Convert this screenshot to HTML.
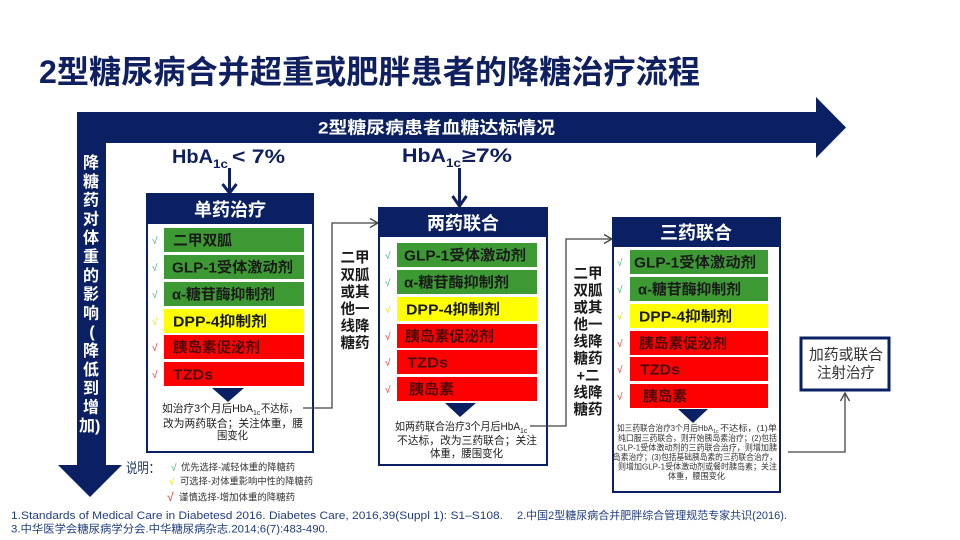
<!DOCTYPE html>
<html>
<head>
<meta charset="utf-8">
<style>
html,body{margin:0;padding:0;background:#fff;}
svg{display:block;}
text{font-family:"Liberation Sans","Noto Sans CJK SC",sans-serif;}
.v{font-family:"DejaVu Sans","Noto Sans CJK SC",sans-serif;}
.cj{font-family:"Liberation Sans","Noto Sans CJK SC",sans-serif;}
</style>
</head>
<body>
<svg width="960" height="540" viewBox="0 0 960 540" xmlns="http://www.w3.org/2000/svg">
<rect width="960" height="540" fill="#fff"/>

<!-- Title -->
<text x="39" y="83" font-size="32" font-weight="bold" fill="#0f1f5f" textLength="661" lengthAdjust="spacingAndGlyphs">2型糖尿病合并超重或肥胖患者的降糖治疗流程</text>

<!-- Big L arrow -->
<path d="M77,112 L816,112 L816,97 L846,127.5 L816,158 L816,143 L106,143 L106,465 L122,465 L90,497 L58,465 L77,465 Z" fill="#0a2062"/>
<text x="318" y="133.5" font-size="17" font-weight="bold" fill="#fff" textLength="237" lengthAdjust="spacingAndGlyphs">2型糖尿病患者血糖达标情况</text>

<!-- Vertical text -->
<g font-size="16" font-weight="bold" fill="#fff" text-anchor="middle">
<text x="91" y="168">降</text>
<text x="91" y="186.8">糖</text>
<text x="91" y="205.6">药</text>
<text x="91" y="224.4">对</text>
<text x="91" y="243.2">体</text>
<text x="91" y="262">重</text>
<text x="91" y="280.8">的</text>
<text x="91" y="299.6">影</text>
<text x="91" y="318.4">响</text>
<text x="92" y="337.2">(</text>
<text x="91" y="356">降</text>
<text x="91" y="374.8">低</text>
<text x="91" y="393.6">到</text>
<text x="91" y="412.4">增</text>
</g>
<text x="79" y="431" font-size="16" font-weight="bold" fill="#fff">加)</text>

<!-- HbA1c < 7% -->
<g class="v" font-weight="bold" fill="#0f1f5f">
<text x="172" y="163" font-size="19" textLength="41" lengthAdjust="spacingAndGlyphs">HbA</text>
<text x="213" y="168" font-size="12" textLength="15" lengthAdjust="spacingAndGlyphs">1c</text>
<text x="232" y="163" font-size="19" textLength="53" lengthAdjust="spacingAndGlyphs">&lt; 7%</text>
<text x="402" y="162" font-size="19" textLength="44" lengthAdjust="spacingAndGlyphs">HbA</text>
<text x="446" y="167" font-size="12" textLength="15" lengthAdjust="spacingAndGlyphs">1c</text>
<text x="462" y="162" font-size="19" textLength="50" lengthAdjust="spacingAndGlyphs">≥7%</text>
</g>

<!-- down arrows -->
<g stroke="#0f1f5f" stroke-width="3" fill="none">
<line x1="229.5" y1="168" x2="229.5" y2="193"/>
<polyline points="222.5,184 229.5,193 236.5,184"/>
<line x1="459.5" y1="168" x2="459.5" y2="206"/>
<polyline points="452.5,196 459.5,206 466.5,196"/>
</g>

<!-- Box 1 -->
<rect x="147" y="194" width="166" height="258" fill="#fff" stroke="#0a2062" stroke-width="2"/>
<rect x="147" y="194" width="166" height="30" fill="#0a2062"/>
<text x="230" y="216" font-size="18" font-weight="bold" fill="#fff" text-anchor="middle">单药治疗</text>

<rect x="164" y="228" width="140" height="24" fill="#3d9934"/>
<rect x="164" y="255" width="140" height="24" fill="#3d9934"/>
<rect x="164" y="282" width="140" height="24" fill="#3d9934"/>
<rect x="164" y="309" width="140" height="24" fill="#ffff00"/>
<rect x="164" y="335" width="140" height="24" fill="#ff0000"/>
<rect x="164" y="362" width="140" height="24" fill="#ff0000"/>
<g class="v" font-size="14.5" font-weight="bold">
<text x="173" y="245.5" fill="#1a1a1a" textLength="59" lengthAdjust="spacingAndGlyphs">二甲双胍</text>
<text x="172" y="272.5" fill="#1a1a1a" textLength="121" lengthAdjust="spacingAndGlyphs">GLP-1受体激动剂</text>
<text x="172" y="299.5" fill="#1a1a1a" textLength="103" lengthAdjust="spacingAndGlyphs">α-糖苷酶抑制剂</text>
<text x="173" y="326.5" fill="#1a1a1a" textLength="94" lengthAdjust="spacingAndGlyphs">DPP-4抑制剂</text>
<text x="173" y="352.5" fill="#4a0a0a" textLength="87" lengthAdjust="spacingAndGlyphs">胰岛素促泌剂</text>
<text x="173" y="379.5" fill="#4a0a0a" textLength="40" lengthAdjust="spacingAndGlyphs">TZDs</text>
</g>
<g font-size="10">
<text x="152" y="244" fill="#3cb371">√</text>
<text x="152" y="271" fill="#3cb371">√</text>
<text x="152" y="298" fill="#3cb371">√</text>
<text x="152" y="325" fill="#e6e600">√</text>
<text x="152" y="351" fill="#ff2a2a">√</text>
<text x="152" y="378" fill="#ff2a2a">√</text>
</g>
<polygon points="212,388 244,388 228,402" fill="#0a2062"/>
<g font-size="11" fill="#222">
<text x="162" y="412" textLength="91" lengthAdjust="spacingAndGlyphs">如治疗3个月后HbA</text>
<text x="253" y="415" font-size="7">1c</text>
<text x="261" y="412" textLength="37" lengthAdjust="spacingAndGlyphs">不达标，</text>
<text x="163" y="427" textLength="140" lengthAdjust="spacingAndGlyphs">改为两药联合；关注体重，腰</text>
<text x="217" y="439" textLength="31" lengthAdjust="spacingAndGlyphs">围变化</text>
</g>

<!-- Connector 1 -->
<g stroke="#444" stroke-width="1.3" fill="none">
<polyline points="303,408 332,408 332,223 377,223"/>
<polyline points="370,218.5 378,223 370,227.5"/>
</g>
<g font-size="14.5" font-weight="bold" fill="#1a1a1a" text-anchor="middle">
<text x="355" y="262.5">二甲</text>
<text x="355" y="280">双胍</text>
<text x="355" y="297">或其</text>
<text x="355" y="314">他一</text>
<text x="355" y="331">线降</text>
<text x="355" y="348">糖药</text>
</g>

<!-- Box 2 -->
<rect x="379" y="208" width="168" height="257" fill="#fff" stroke="#0a2062" stroke-width="2"/>
<rect x="379" y="208" width="168" height="29" fill="#0a2062"/>
<text x="463" y="229.5" font-size="18" font-weight="bold" fill="#fff" text-anchor="middle">两药联合</text>

<rect x="397" y="243" width="140" height="24" fill="#3d9934"/>
<rect x="397" y="270" width="140" height="24" fill="#3d9934"/>
<rect x="397" y="297" width="140" height="24" fill="#ffff00"/>
<rect x="397" y="324" width="140" height="24" fill="#ff0000"/>
<rect x="397" y="350" width="140" height="24" fill="#ff0000"/>
<rect x="397" y="377" width="140" height="24" fill="#ff0000"/>
<g class="v" font-size="14.5" font-weight="bold">
<text x="404" y="260.5" fill="#1a1a1a" textLength="122" lengthAdjust="spacingAndGlyphs">GLP-1受体激动剂</text>
<text x="404" y="287.5" fill="#1a1a1a" textLength="105" lengthAdjust="spacingAndGlyphs">α-糖苷酶抑制剂</text>
<text x="406" y="314.5" fill="#1a1a1a" textLength="94" lengthAdjust="spacingAndGlyphs">DPP-4抑制剂</text>
<text x="405" y="341.5" fill="#4a0a0a" textLength="89" lengthAdjust="spacingAndGlyphs">胰岛素促泌剂</text>
<text x="407" y="367.5" fill="#4a0a0a" textLength="41" lengthAdjust="spacingAndGlyphs">TZDs</text>
<text x="409" y="394.5" fill="#4a0a0a" textLength="45" lengthAdjust="spacingAndGlyphs">胰岛素</text>
</g>
<g font-size="10">
<text x="385" y="259" fill="#3cb371">√</text>
<text x="385" y="286" fill="#3cb371">√</text>
<text x="385" y="313" fill="#e6e600">√</text>
<text x="385" y="340" fill="#ff2a2a">√</text>
<text x="385" y="366" fill="#ff2a2a">√</text>
<text x="385" y="393" fill="#ff2a2a">√</text>
</g>
<polygon points="445,403 476,403 460,417" fill="#0a2062"/>
<g font-size="11" fill="#222">
<text x="395" y="430" textLength="125" lengthAdjust="spacingAndGlyphs">如两药联合治疗3个月后HbA</text>
<text x="520" y="433" font-size="7">1c</text>
<text x="397" y="444" textLength="140" lengthAdjust="spacingAndGlyphs">不达标，改为三药联合；关注</text>
<text x="430" y="457" textLength="73" lengthAdjust="spacingAndGlyphs">体重，腰围变化</text>
</g>

<!-- Connector 2 -->
<g stroke="#444" stroke-width="1.3" fill="none">
<polyline points="530,426 566,426 566,239 611,239"/>
<polyline points="604,234.5 612,239 604,243.5"/>
</g>
<g font-size="14.5" font-weight="bold" fill="#1a1a1a" text-anchor="middle">
<text x="588" y="278.5">二甲</text>
<text x="588" y="295.5">双胍</text>
<text x="588" y="312.5">或其</text>
<text x="588" y="329.5">他一</text>
<text x="588" y="346.5">线降</text>
<text x="588" y="363.5">糖药</text>
<text x="588" y="380.5">+二</text>
<text x="588" y="397.5">线降</text>
<text x="588" y="414.5">糖药</text>
</g>

<!-- Box 3 -->
<rect x="613" y="218" width="167" height="274" fill="#fff" stroke="#0a2062" stroke-width="2"/>
<rect x="613" y="218" width="167" height="29" fill="#0a2062"/>
<text x="696" y="239" font-size="18" font-weight="bold" fill="#fff" text-anchor="middle">三药联合</text>

<rect x="630" y="250" width="138" height="24" fill="#3d9934"/>
<rect x="630" y="277" width="138" height="24" fill="#3d9934"/>
<rect x="630" y="304" width="138" height="24" fill="#ffff00"/>
<rect x="630" y="331" width="138" height="24" fill="#ff0000"/>
<rect x="630" y="357" width="138" height="24" fill="#ff0000"/>
<rect x="630" y="384" width="138" height="24" fill="#ff0000"/>
<g class="v" font-size="14.5" font-weight="bold">
<text x="634" y="267.5" fill="#1a1a1a" textLength="122" lengthAdjust="spacingAndGlyphs">GLP-1受体激动剂</text>
<text x="638" y="294.5" fill="#1a1a1a" textLength="103" lengthAdjust="spacingAndGlyphs">α-糖苷酶抑制剂</text>
<text x="639" y="321.5" fill="#1a1a1a" textLength="93" lengthAdjust="spacingAndGlyphs">DPP-4抑制剂</text>
<text x="639" y="348.5" fill="#4a0a0a" textLength="88" lengthAdjust="spacingAndGlyphs">胰岛素促泌剂</text>
<text x="640" y="374.5" fill="#4a0a0a" textLength="40" lengthAdjust="spacingAndGlyphs">TZDs</text>
<text x="643" y="401.5" fill="#4a0a0a" textLength="44" lengthAdjust="spacingAndGlyphs">胰岛素</text>
</g>
<g font-size="10">
<text x="617" y="266" fill="#3cb371">√</text>
<text x="617" y="293" fill="#3cb371">√</text>
<text x="617" y="320" fill="#e6e600">√</text>
<text x="617" y="347" fill="#ff2a2a">√</text>
<text x="617" y="373" fill="#ff2a2a">√</text>
<text x="617" y="400" fill="#ff2a2a">√</text>
</g>
<polygon points="678,409 708,409 693,423" fill="#0a2062"/>
<g font-size="8.5" fill="#333">
<text x="617" y="431" textLength="96" lengthAdjust="spacingAndGlyphs">如三药联合治疗3个月后HbA</text>
<text x="713" y="433" font-size="5.5">1c</text>
<text x="720" y="431" textLength="57" lengthAdjust="spacingAndGlyphs">不达标，(1)单</text>
<text x="618" y="441" textLength="159" lengthAdjust="spacingAndGlyphs">纯口服三药联合，则开始胰岛素治疗；(2)包括</text>
<text x="617" y="450.5" textLength="160" lengthAdjust="spacingAndGlyphs">GLP-1受体激动剂的三药联合治疗，则增加胰</text>
<text x="613" y="460" textLength="164" lengthAdjust="spacingAndGlyphs">岛素治疗；(3)包括基础胰岛素的三药联合治疗，</text>
<text x="618" y="469.5" textLength="159" lengthAdjust="spacingAndGlyphs">则增加GLP-1受体激动剂或餐时胰岛素；关注</text>
<text x="668" y="479" textLength="57" lengthAdjust="spacingAndGlyphs">体重，腰围变化</text>
</g>

<!-- Box 4 -->
<rect x="801" y="338" width="88" height="52" fill="#fff" stroke="#0a2062" stroke-width="3"/>
<text x="809" y="359.5" font-size="15" fill="#333" textLength="74" lengthAdjust="spacingAndGlyphs">加药或联合</text>
<text x="817" y="377.5" font-size="15" fill="#333" textLength="58" lengthAdjust="spacingAndGlyphs">注射治疗</text>

<!-- Connector 3 -->
<g stroke="#444" stroke-width="1.3" fill="none">
<polyline points="788,452 845,452 845,393"/>
<polyline points="840.5,401 845,393 849.5,401"/>
</g>

<!-- Legend -->
<text x="126" y="473" font-size="14" fill="#203864" textLength="34" lengthAdjust="spacingAndGlyphs">说明：</text>
<text x="171" y="471" font-size="10" fill="#3cb371">√</text>
<text x="181" y="470.5" font-size="9.5" fill="#333" textLength="114" lengthAdjust="spacingAndGlyphs">优先选择-减轻体重的降糖药</text>
<text x="169" y="485" font-size="10" fill="#e6e600">√</text>
<text x="180" y="484.5" font-size="9.5" fill="#333" textLength="133" lengthAdjust="spacingAndGlyphs">可选择-对体重影响中性的降糖药</text>
<text x="167" y="501" font-size="12" fill="#ff2a2a">√</text>
<text x="179" y="500.5" font-size="9.5" fill="#333" textLength="116" lengthAdjust="spacingAndGlyphs">谨慎选择-增加体重的降糖药</text>

<!-- References -->
<g class="v" font-size="11" fill="#203c80">
<text x="11" y="519" textLength="492" lengthAdjust="spacingAndGlyphs">1.Standards of Medical Care in Diabetesd 2016. Diabetes Care, 2016,39(Suppl 1): S1–S108.</text>
<text x="517" y="519" textLength="270" lengthAdjust="spacingAndGlyphs">2.中国2型糖尿病合并肥胖综合管理规范专家共识(2016).</text>
<text x="11" y="532.5" textLength="317" lengthAdjust="spacingAndGlyphs">3.中华医学会糖尿病学分会.中华糖尿病杂志.2014;6(7):483-490.</text>
</g>
</svg>
</body>
</html>
